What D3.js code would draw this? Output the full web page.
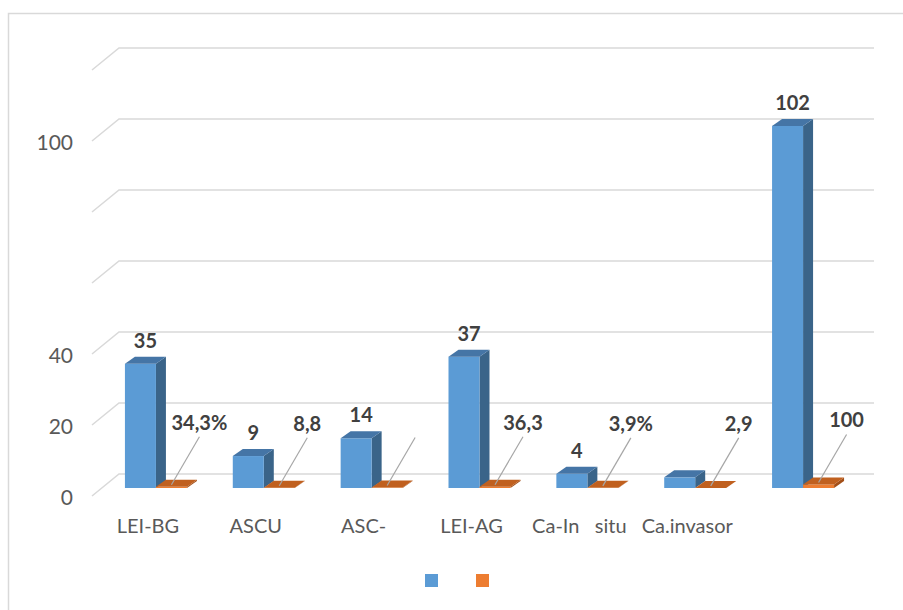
<!DOCTYPE html>
<html>
<head>
<meta charset="utf-8">
<script src="https://d3js.org/d3.v7.min.js"></script>
<style>
  body { margin: 0; background: #fff; }
  svg { display: block; }
  .axis-label { font-family: Lato, "Open Sans", sans-serif; font-size: 21px; fill: #595959; }
  .cat-label { font-family: Lato, "Open Sans", sans-serif; font-size: 20px; fill: #595959; white-space: pre; }
  .value-label { font-family: Lato, "Open Sans", sans-serif; font-size: 20px; font-weight: bold; fill: #404040; }
</style>
</head>
<body>
<div id="chart"></div>
<script>

// Chart data
let categories = ["LEI-BG", "ASCU", "ASC-", "LEI-AG", "Ca-In   situ", "Ca.invasor", "Total"];
let categoryLabels = ["LEI-BG", "ASCU", "ASC-", "LEI-AG", "Ca-In   situ", "Ca.invasor", ""];
let blueValues = [35, 9, 14, 37, 4, 3, 102];
let blueLabels = ["35", "9", "14", "37", "4", "", "102"];
let orangeValues = [0.343, 0.088, 0.137, 0.363, 0.039, 0.029, 1.0];
let orangeLabels = ["34,3%", "8,8", "", "36,3", "3,9%", "2,9", "100"];
let gridTicks = [0, 20, 40, 60, 80, 100, 120];
let labelTicks = [0, 20, 40, 100];

let chart = {
    width: 903,
    height: 610,
    backLeft: 119,
    backRight: 874,
    floorDx: 27,      // diagonal of the floor / wall gridlines
    floorDy: 22,
    barShiftX: -17,   // bar front plane relative to back wall
    barShiftY: 14,
    depthDx: 10,      // bar depth
    depthDy: -7,
    barWidth: 31
};

let svg = d3.select("#chart").append("svg")
    .attr("width", chart.width)
    .attr("height", chart.height);

// Outer frame
svg.append("rect")
    .attr("x", 8.5).attr("y", 13.5)
    .attr("width", 900).attr("height", 610)
    .attr("fill", "none")
    .attr("stroke", "#d9d9d9")
    .attr("stroke-width", 1.5);

// Scales (back wall plane)
let yScale = d3.scaleLinear()
    .domain([0, 120])
    .range([474, 48]);

let xScale = d3.scaleBand()
    .domain(categories)
    .range([chart.backLeft + chart.barShiftX, chart.backRight + chart.barShiftX]);

let seriesScale = d3.scaleBand()
    .domain(["blue", "orange"])
    .range([0, chart.barWidth * 2]);

let groupOffset = (xScale.bandwidth() - chart.barWidth * 2) / 2;

// Gridlines: back wall + left wall diagonal
let grid = svg.append("g").attr("class", "grid");
gridTicks.forEach(function (t) {
    grid.append("path")
        .attr("d", "M" + (chart.backLeft - chart.floorDx) + "," + (yScale(t) + chart.floorDy) +
            "L" + chart.backLeft + "," + yScale(t) +
            "L" + chart.backRight + "," + yScale(t))
        .attr("fill", "none")
        .attr("stroke", "#d9d9d9")
        .attr("stroke-width", 1.5);
});

// Y axis labels
svg.append("g")
    .selectAll("text")
    .data(labelTicks)
    .enter()
    .append("text")
    .attr("class", "axis-label")
    .attr("x", 73)
    .attr("y", function (d) { return yScale(d) + chart.floorDy; })
    .attr("text-anchor", "end")
    .attr("dominant-baseline", "central")
    .text(function (d) { return d; });

// Build bar data
let bars = [];
categories.forEach(function (c, i) {
    bars.push({cat: c, series: "blue", value: blueValues[i], label: blueLabels[i]});
    bars.push({cat: c, series: "orange", value: orangeValues[i], label: orangeLabels[i]});
});

let colors = {
    blue: {front: "#5b9bd5", top: "#4575a6", side: "#3a6489"},
    orange: {front: "#ed7d31", top: "#c0601f", side: "#a34f18"}
};

function barX(d) { return xScale(d.cat) + groupOffset + seriesScale(d.series); }
function barTop(d) { return yScale(d.value) + chart.barShiftY; }
function barBase() { return yScale(0) + chart.barShiftY; }

let barGroup = svg.append("g").attr("class", "bars");

bars.forEach(function (d) {
    let x0 = barX(d), x1 = x0 + chart.barWidth;
    let yt = barTop(d), yb = barBase();
    let dx = chart.depthDx, dy = chart.depthDy;
    let g = barGroup.append("g");

    // side face
    g.append("path")
        .attr("d", "M" + x1 + "," + yt + "L" + (x1 + dx) + "," + (yt + dy) +
            "L" + (x1 + dx) + "," + (yb + dy) + "L" + x1 + "," + yb + "Z")
        .attr("fill", colors[d.series].side);

    // front face
    g.append("rect")
        .attr("x", x0).attr("y", yt)
        .attr("width", chart.barWidth)
        .attr("height", Math.max(0, yb - yt))
        .attr("fill", colors[d.series].front);

    // top face
    g.append("path")
        .attr("d", "M" + x0 + "," + yt + "L" + (x0 + dx) + "," + (yt + dy) +
            "L" + (x1 + dx) + "," + (yt + dy) + "L" + x1 + "," + yt + "Z")
        .attr("fill", colors[d.series].top);
});

// Blue value labels
svg.append("g")
    .selectAll("text")
    .data(bars.filter(function (d) { return d.series === "blue"; }))
    .enter()
    .append("text")
    .attr("class", "value-label")
    .attr("x", function (d) { return barX(d) + chart.barWidth / 2 + chart.depthDx / 2; })
    .attr("y", function (d) { return barTop(d) + chart.depthDy - 9; })
    .attr("text-anchor", "middle")
    .text(function (d) { return d.label; });

// Orange labels with leader lines
let orangeGroup = svg.append("g");
bars.filter(function (d) { return d.series === "orange"; }).forEach(function (d) {
    let sx = barX(d) + chart.barWidth / 2;
    let sy = barTop(d) - 2;
    let ex = sx + 28, ey = sy - 48;
    orangeGroup.append("line")
        .attr("x1", sx).attr("y1", sy)
        .attr("x2", ex).attr("y2", ey)
        .attr("stroke", "#a6a6a6")
        .attr("stroke-width", 1.2);
    orangeGroup.append("text")
        .attr("class", "value-label")
        .attr("x", ex)
        .attr("y", ey - 7)
        .attr("text-anchor", "middle")
        .text(d.label);
});

// Category labels
svg.append("g")
    .selectAll("text")
    .data(categories)
    .enter()
    .append("text")
    .attr("class", "cat-label")
    .attr("x", function (d) { return xScale(d) + xScale.bandwidth() / 2 - 8; })
    .attr("y", 533)
    .attr("text-anchor", "middle")
    .text(function (d, i) { return categoryLabels[i]; });

// Legend (series without names)
svg.append("g")
    .selectAll("rect")
    .data(["blue", "orange"])
    .enter()
    .append("rect")
    .attr("x", function (d, i) { return 425 + i * 51; })
    .attr("y", 574)
    .attr("width", 13)
    .attr("height", 13)
    .attr("fill", function (d) { return colors[d].front; });

</script>
</body>
</html>
